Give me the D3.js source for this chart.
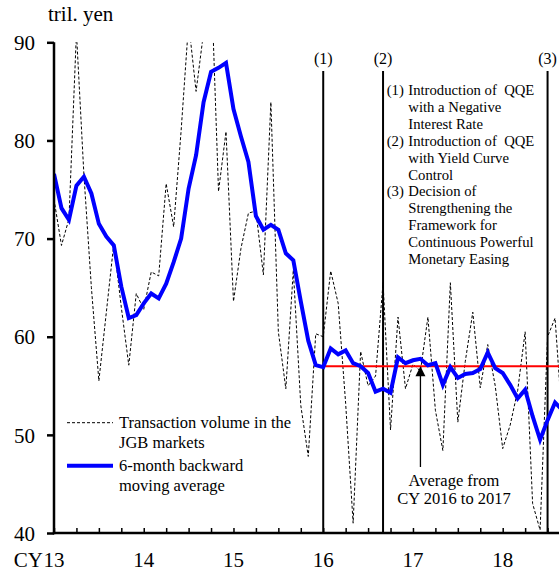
<!DOCTYPE html>
<html><head><meta charset="utf-8">
<script src="https://cdn.jsdelivr.net/npm/d3@7"></script>
<style>
body{margin:0;background:#fff}
svg{display:block}
text{font-family:"Liberation Serif","Times New Roman",serif;fill:#000}
</style>
</head><body>
<svg id="c" width="559" height="574"></svg>
<script>
// ---- data (monthly, Jan 2013 onward) ----
const months = d3.range(69).map(i => (2013 + Math.floor(i / 12)) + "-" + String(i % 12 + 1).padStart(2, "0"));
const volume = [
  74.0, 69.3, 72.0, 91.0, 76.5, 65.0, 55.5, 62.5, 69.5, 63.0, 57.1, 64.4,
  62.8, 66.6, 66.2, 75.6, 71.2, 81.0, 92.0, 85.0, 91.0, 97.0, 74.8, 80.9,
  63.6, 69.0, 72.6, 72.8, 66.3, 83.9, 60.5, 54.7, 66.8, 53.0, 47.8, 60.3,
  60.0, 66.7, 63.4, 53.2, 41.0, 58.5, 55.0, 56.0, 65.5, 50.5, 62.0, 54.7,
  57.2, 56.5, 62.0, 52.5, 48.4, 65.5, 51.3, 57.5, 62.5, 54.8, 59.2, 55.0,
  48.6, 51.0, 54.5, 60.5, 43.0, 40.3, 60.0, 61.9, 51.0
];
const movingAvg = [
  76.6, 73.1, 71.9, 75.4, 76.3, 74.6, 71.5, 70.2, 69.3, 65.1, 61.9, 62.2,
  63.4, 64.4, 63.9, 65.4, 67.6, 70.0, 75.1, 78.5, 83.9, 87.0, 87.4, 87.9,
  83.2, 80.4, 77.8, 72.3, 70.9, 71.4, 70.9, 68.5, 67.8, 63.6, 59.6, 57.1,
  56.9, 58.8, 58.2, 58.6, 57.3, 57.0, 56.3, 54.4, 54.7, 54.3, 57.9, 57.3,
  57.6, 57.75, 57.1, 57.3, 55.1, 56.9, 55.8, 56.2, 56.3, 56.7, 58.4, 56.8,
  56.3, 55.1, 53.7, 54.6, 51.9, 49.5, 51.5, 53.3, 52.5
];
const average1617 = 57.0;
const averageFrom = "2016-01";
const yTicks = [40, 50, 60, 70, 80, 90];
const yearLabels = ["13", "14", "15", "16", "17", "18"];
const events = [
  {label: "(1)", month: "2016-01"},
  {label: "(2)", month: "2016-09"},
  {label: "(3)", month: "2018-07"}
];
const notes = [
  ["(1)", "Introduction of  QQE"], ["", "with a Negative"], ["", "Interest Rate"],
  ["(2)", "Introduction of  QQE"], ["", "with Yield Curve"], ["", "Control"],
  ["(3)", "Decision of"], ["", "Strengthening the"], ["", "Framework for"],
  ["", "Continuous Powerful"], ["", "Monetary Easing"]
];
const legendItems = [
  {key: "volume", lines: ["Transaction volume in the", "JGB markets"]},
  {key: "avg", lines: ["6-month backward", "moving average"]}
];
const arrowMonth = "2017-02";
const arrowText = ["Average from", "CY 2016 to 2017"];

// ---- layout ----
const pL = 54, pT = 42.3, pB = 533, pR = 559;
const svg = d3.select("#c");
const mi = m => months.indexOf(m);
const x = d3.scaleLinear().domain([0, 60]).range([pL, 502.7]);
const y = d3.scaleLinear().domain([40, 90]).range([pB, pT]);

svg.append("defs").append("clipPath").attr("id", "clip")
  .append("rect").attr("x", pL).attr("y", pT).attr("width", pR - pL + 20).attr("height", pB - pT);

// event lines
const ev = svg.append("g");
events.forEach(e => {
  const xx = x(mi(e.month));
  ev.append("line").attr("x1", xx).attr("x2", xx).attr("y1", 71).attr("y2", pB)
    .attr("stroke", "#000").attr("stroke-width", 2);
  ev.append("text").attr("x", xx).attr("y", 64).attr("text-anchor", "middle")
    .attr("font-size", 16).text(e.label);
});

// dashed volume
const line = d3.line().x((d, i) => x(i)).y(d => y(d));
svg.append("path").datum(volume).attr("d", line).attr("clip-path", "url(#clip)")
  .attr("fill", "none").attr("stroke", "#000").attr("stroke-width", 1).attr("stroke-dasharray", "3,2");

// red average
svg.append("line").attr("x1", x(mi(averageFrom))).attr("x2", pR).attr("y1", y(average1617)).attr("y2", y(average1617))
  .attr("stroke", "#ff0000").attr("stroke-width", 2);

// blue moving average
svg.append("path").datum(movingAvg).attr("d", line).attr("clip-path", "url(#clip)")
  .attr("fill", "none").attr("stroke", "#0000ff").attr("stroke-width", 4);

// y axis
const ya = svg.append("g").attr("transform", `translate(${pL},0)`)
  .call(d3.axisLeft(y).tickValues(yTicks).tickSize(7).tickPadding(12).tickFormat(d3.format("d")));
ya.select(".domain").remove();
ya.selectAll(".tick line").attr("stroke-width", 2.5);
ya.selectAll(".tick text").attr("font-size", 21).attr("font-family", "Liberation Serif").attr("dy", "0.34em");
svg.append("line").attr("x1", pL).attr("x2", pL).attr("y1", pT).attr("y2", pB + 1.2)
  .attr("stroke", "#000").attr("stroke-width", 2.5);

// x axis
const qTicks = d3.range(0, 69, 3).filter(t => x(t) <= pR);
const xa = svg.append("g").attr("transform", `translate(0,${pB})`)
  .call(d3.axisBottom(x).tickValues(qTicks).tickSize(-5).tickFormat(""));
xa.select(".domain").remove();
xa.selectAll(".tick line").attr("stroke-width", 1.5);
svg.append("line").attr("x1", pL - 1.2).attr("x2", pR).attr("y1", pB).attr("y2", pB)
  .attr("stroke", "#000").attr("stroke-width", 2.5);
yearLabels.forEach((lab, i) => {
  svg.append("text").attr("x", x(i * 12)).attr("y", 567).attr("text-anchor", "middle")
    .attr("font-size", 21).text(lab);
});
svg.append("text").attr("x", 43).attr("y", 567).attr("text-anchor", "end").attr("font-size", 21).text("CY");
svg.append("text").attr("x", 48).attr("y", 21).attr("font-size", 21).text("tril. yen");

// notes
const nx = 386.7, nx2 = 408.3;
notes.forEach((n, i) => {
  const yy = 95 + i * 16.9;
  if (n[0]) svg.append("text").attr("x", nx).attr("y", yy).attr("font-size", 14.7).text(n[0]);
  svg.append("text").attr("x", nx2).attr("y", yy).attr("font-size", 14.7)
    .style("white-space", "pre").text(n[1]);
});

// legend
const lg = svg.append("g");
legendItems.forEach((it, i) => {
  const ly = 422.7 + i * 43;
  const ln = lg.append("line").attr("x1", 67).attr("x2", 113).attr("y1", ly).attr("y2", ly);
  if (it.key === "volume") ln.attr("stroke", "#000").attr("stroke-width", 1).attr("stroke-dasharray", "3,2");
  else ln.attr("stroke", "#0000ff").attr("stroke-width", 4);
  it.lines.forEach((t, j) => {
    lg.append("text").attr("x", 119).attr("y", ly + 5.5 + j * 19.3).attr("font-size", 16.5).text(t);
  });
});

// arrow
const ax = x(mi(arrowMonth));
const tipY = y(average1617);
svg.append("line").attr("x1", ax).attr("x2", ax).attr("y1", tipY + 8).attr("y2", 467)
  .attr("stroke", "#000").attr("stroke-width", 1.3);
svg.append("path").attr("d", `M${ax},${tipY} L${ax - 5},${tipY + 10} L${ax + 5},${tipY + 10} Z`).attr("fill", "#000");
arrowText.forEach((t, j) => {
  svg.append("text").attr("x", 454).attr("y", 485.5 + j * 18.3).attr("text-anchor", "middle")
    .attr("font-size", 16.5).text(t);
});
</script>
</body></html>
